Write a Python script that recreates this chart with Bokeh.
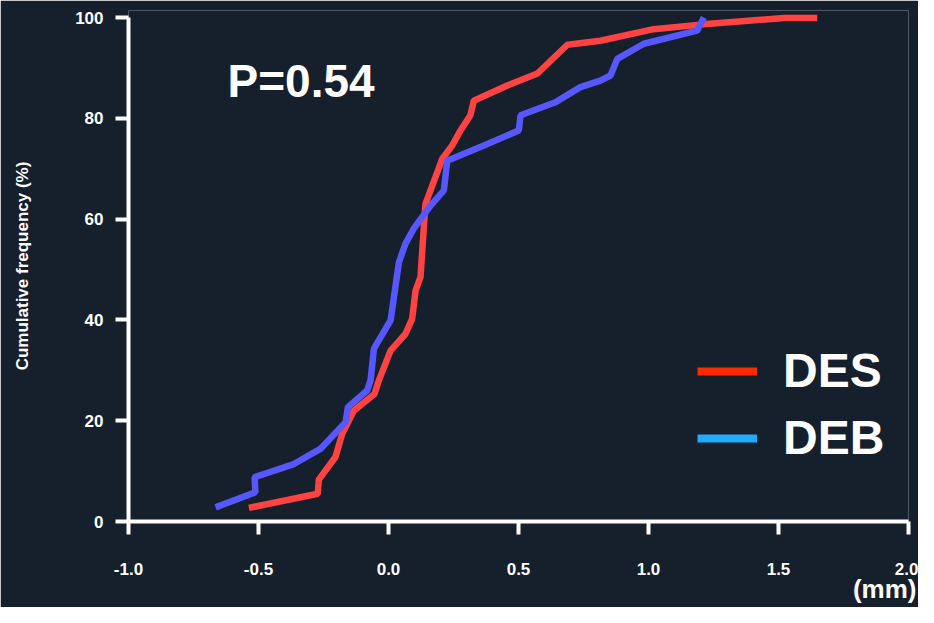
from bokeh.plotting import figure
from bokeh.models import Range1d, Label, Legend, LegendItem, FixedTicker, Title
from bokeh.embed import file_html
from bokeh.resources import INLINE

# ---- data ----
des_x = [-0.537, -0.272, -0.268, -0.204, -0.178, -0.133, -0.054, -0.037, 0.008, 0.065, 0.091,
         0.104, 0.123, 0.142, 0.207, 0.245, 0.277, 0.315, 0.328, 0.457, 0.573, 0.688, 0.815,
         1.02, 1.2, 1.52, 1.649]
des_y = [2.7, 5.5, 8.3, 12.8, 17.4, 22.0, 25.3, 28.0, 33.9, 37.2, 40.2,
         45.8, 48.5, 63.0, 72.0, 74.6, 77.6, 80.6, 83.5, 86.5, 88.9, 94.6, 95.4,
         97.7, 98.6, 99.9, 99.9]

deb_x = [-0.665, -0.512, -0.515, -0.364, -0.262, -0.165, -0.156, -0.082, -0.069, -0.056,
         0.008, 0.040, 0.065, 0.097, 0.162, 0.213, 0.226, 0.367, 0.501, 0.508, 0.642,
         0.738, 0.815, 0.854, 0.880, 0.982, 1.187, 1.213]
deb_y = [2.8, 5.8, 8.8, 11.4, 14.4, 19.7, 22.7, 26.0, 28.0, 34.3,
         39.9, 51.4, 55.1, 58.1, 62.7, 65.7, 71.6, 74.6, 77.6, 80.6, 83.2,
         86.2, 87.5, 88.5, 91.8, 94.8, 97.4, 100.0]

x_ticks = [-1.0, -0.5, 0.0, 0.5, 1.0, 1.5, 2.0]
x_tick_labels = ["-1.0", "-0.5", "0.0", "0.5", "1.0", "1.5", "2.0"]
y_ticks = [0, 20, 40, 60, 80, 100]
y_tick_labels = ["0", "20", "40", "60", "80", "100"]

series_names = ["DES", "DEB"]
p_text = "P=0.54"
x_unit = "(mm)"
y_title = "Cumulative frequency (%)"

BG = "#161f2c"
FONT = "Liberation Sans"
NAN = float("nan")

p = figure(width=918, height=607, output_backend="svg", toolbar_location=None,
           x_range=Range1d(-1.0, 2.0), y_range=Range1d(0, 101.4),
           min_border_left=128, min_border_right=10, min_border_top=10, min_border_bottom=86)
p.background_fill_color = BG
p.border_fill_color = BG
p.outline_line_color = None
p.xgrid.visible = False
p.ygrid.visible = False

red = p.line(des_x, des_y, line_color="#ff4343", line_width=6.5)
blue = p.line(deb_x, deb_y, line_color="#5757ff", line_width=6.5)

# legend swatches use their own colours in the reference (no data drawn)
leg_des = p.line([NAN, NAN], [NAN, NAN], line_color="#ff2a00", line_width=8)
leg_deb = p.line([NAN, NAN], [NAN, NAN], line_color="#22aaff", line_width=8)

for ax in (p.xaxis[0], p.yaxis[0]):
    ax.axis_line_color = "white"
    ax.axis_line_width = 4
    ax.major_tick_line_color = "white"
    ax.major_tick_line_width = 4
    ax.major_tick_out = 13
    ax.major_tick_in = 0
    ax.minor_tick_line_color = None
    ax.major_label_text_color = "white"
    ax.major_label_text_font = FONT
    ax.major_label_text_font_style = "bold"
    ax.major_label_text_font_size = "17px"

p.xaxis.ticker = FixedTicker(ticks=x_ticks)
p.xaxis.major_label_overrides = {t: l for t, l in zip(x_ticks, x_tick_labels)}
p.xaxis.major_label_standoff = 28

p.yaxis.ticker = FixedTicker(ticks=y_ticks)
p.yaxis.major_label_overrides = {t: l for t, l in zip(y_ticks, y_tick_labels)}
p.yaxis.major_label_standoff = 12
p.yaxis.bounds = (0, 100)
p.yaxis.axis_label = y_title
p.yaxis.axis_label_text_color = "white"
p.yaxis.axis_label_text_font = FONT
p.yaxis.axis_label_text_font_style = "bold"
p.yaxis.axis_label_text_font_size = "17px"
p.yaxis.axis_label_standoff = 40

# unit label at the bottom right, under the x axis
p.add_layout(Title(text=x_unit, align="right", offset=-8, standoff=-11,
                   text_color="white", text_font=FONT, text_font_style="bold",
                   text_font_size="26px"), "below")

p.add_layout(Label(x=99, y=441, x_units="screen", y_units="screen", text=p_text,
                   text_color="white", text_font=FONT, text_font_style="bold",
                   text_font_size="46px", text_baseline="alphabetic"))

legend = Legend(items=[LegendItem(label=series_names[0], renderers=[leg_des]),
                       LegendItem(label=series_names[1], renderers=[leg_deb])],
                location=(569, 56), orientation="vertical",
                background_fill_alpha=0, border_line_color=None,
                glyph_width=60, glyph_height=40, label_height=40,
                label_standoff=26, spacing=12, padding=0, margin=0,
                label_text_color="white", label_text_font=FONT,
                label_text_font_style="bold", label_text_font_size="48px")
p.add_layout(legend)

open("out.html", "w").write(file_html(p, INLINE))
